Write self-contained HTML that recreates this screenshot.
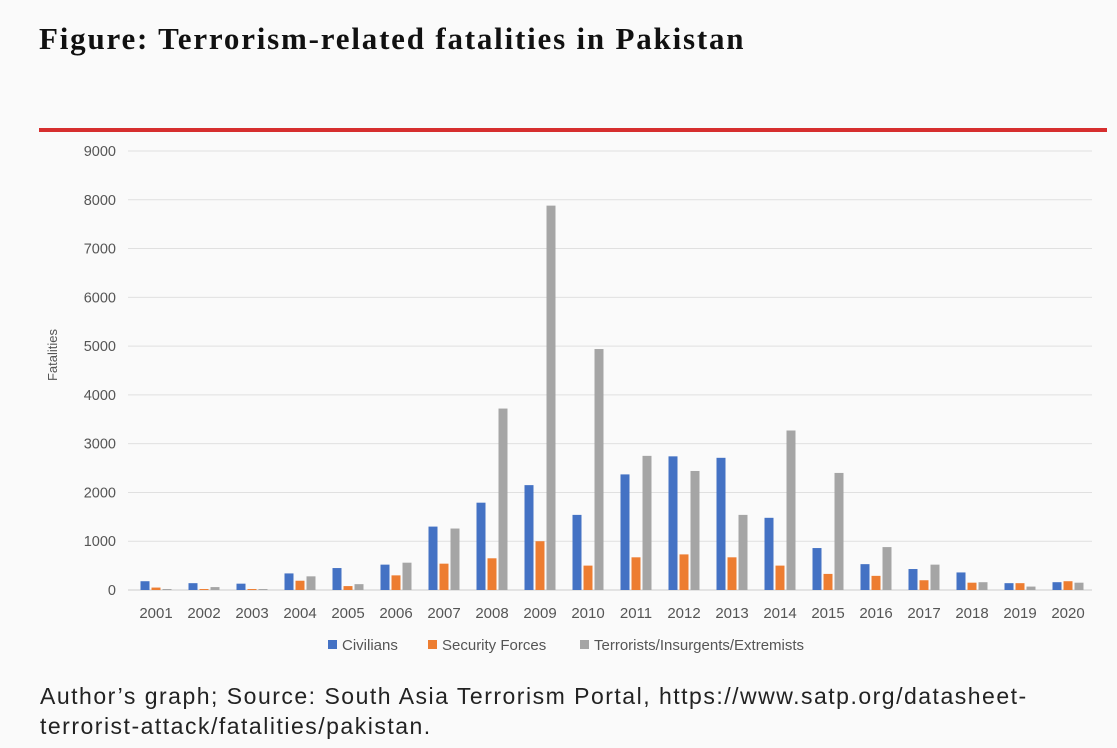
<!DOCTYPE html>
<html><head><meta charset="utf-8"><style>
body{margin:0;width:1117px;height:748px;background:#fafafa;overflow:hidden;font-family:"Liberation Sans",sans-serif}
#title{position:absolute;left:39px;top:21px;font:bold 31px "Liberation Serif",serif;letter-spacing:1.8px;color:#111;white-space:nowrap}
#rule{position:absolute;left:39px;top:128px;width:1068px;height:4px;background:#d62e2e}
#cap{position:absolute;left:40px;top:681px;font-size:23px;line-height:30px;color:#222;letter-spacing:1.5px;white-space:nowrap}
svg{position:absolute;left:0;top:0}
</style></head><body>
<div id="title">Figure: Terrorism-related fatalities in Pakistan</div>
<div id="rule"></div>
<svg id="chart" width="1117" height="748"></svg>
<div id="cap">Author’s graph; Source: South Asia Terrorism Portal, https://www.satp.org/datasheet-<br>terrorist-attack/fatalities/pakistan.</div>
<script>
const years=["2001","2002","2003","2004","2005","2006","2007","2008","2009","2010","2011","2012","2013","2014","2015","2016","2017","2018","2019","2020"];
const civilians=[180,140,130,340,450,520,1300,1790,2150,1540,2370,2740,2710,1480,860,530,430,360,140,160];
const security=[50,20,20,190,80,300,540,650,1000,500,670,730,670,500,330,290,200,150,140,180];
const terrorists=[20,60,20,280,120,560,1260,3720,7880,4940,2750,2440,1540,3270,2400,880,520,160,70,150];
const yTicks=[0,1000,2000,3000,4000,5000,6000,7000,8000,9000];
const seriesNames=["Civilians","Security Forces","Terrorists/Insurgents/Extremists"];
const colors=["#4472c4","#ed7d31","#a5a5a5"];
const svg=document.getElementById('chart');const NS="http://www.w3.org/2000/svg";
const y=v=>590-v*(439/9000);
const x=i=>156+i*48;
function mk(t,a,txt){const e=document.createElementNS(NS,t);for(const k in a)e.setAttribute(k,a[k]);if(txt!==undefined)e.textContent=txt;svg.appendChild(e);return e;}
yTicks.forEach(t=>{
 const l=mk('line',{x1:128,x2:1092,y1:y(t),y2:y(t),stroke:t?'#e0e0e0':'#cccccc','stroke-width':1});
 
 
 const tx=mk('text',{x:116,y:y(t)+5,'text-anchor':'end','font-size':14.5,fill:'#555','font-family':'Liberation Sans'},t);
 
 
});
const yt=mk('text',{x:57,y:355,'text-anchor':'middle','font-size':13,fill:'#555',transform:'rotate(-90 57 355)'},'Fatalities');


const series=[civilians,security,terrorists];
years.forEach((yr,i)=>{
 series.forEach((s,k)=>{
  const r=mk('rect',{x:x(i)-15.5+k*11,y:y(s[i]),width:9,height:590-y(s[i]),fill:colors[k]});
  
  
 });
 const t=mk('text',{x:x(i),y:618,'text-anchor':'middle','font-size':15,fill:'#555'},yr);
 
 
});
const lx=[328,428,580];
seriesNames.forEach((n,k)=>{
 const r=mk('rect',{x:lx[k],y:640,width:9,height:9,fill:colors[k]});
 
 
 const t=mk('text',{x:lx[k]+14,y:650,'font-size':15,fill:'#555'},n);
 
 
});
</script>
</body></html>
